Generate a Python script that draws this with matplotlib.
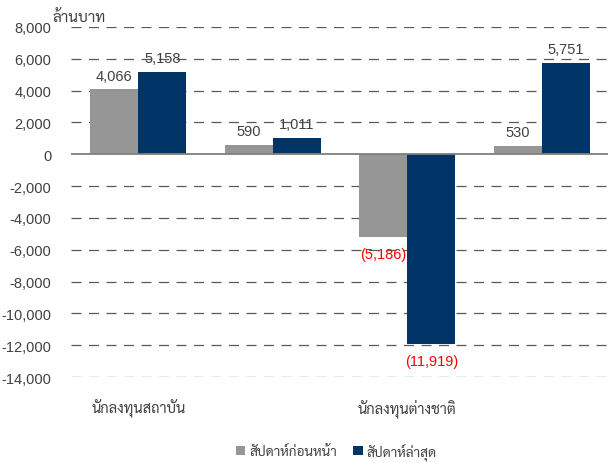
import numpy as np
import matplotlib
matplotlib.use("Agg")
import matplotlib.pyplot as plt
from matplotlib import font_manager

# pick a Thai font that is installed
installed = {f.name for f in font_manager.fontManager.ttflist}
thai_font = None
for name in ['Sarabun', 'Noto Sans Thai', 'Noto Sans Thai Looped', 'Prompt', 'Kanit']:
    if name in installed:
        thai_font = name
        break
families = ['Liberation Sans']
if thai_font:
    families.append(thai_font)
families.append('DejaVu Sans')
plt.rcParams['font.family'] = families

categories = ['นักลงทุนสถาบัน', '', 'นักลงทุนต่างชาติ', '']
prev_week = [4066, 590, -5186, 530]
last_week = [5158, 1011, -11919, 5751]
series_names = ['สัปดาห์ก่อนหน้า', 'สัปดาห์ล่าสุด']
yticks = np.arange(-14000, 8001, 2000)

gray = '#969696'
navy = '#003366'
txt = '#404040'

fig = plt.figure(figsize=(6.08, 4.64), dpi=100)
ax = fig.add_axes([71 / 608, 0.185, 538 / 608, 0.755])

x = np.arange(len(categories))
w = 0.357
b1 = ax.bar(x - w / 2, prev_week, w, color=gray, label=series_names[0], zorder=3)
b2 = ax.bar(x + w / 2, last_week, w, color=navy, label=series_names[1], zorder=3)

def label_bars(bars, vals):
    for rect, v in zip(bars, vals):
        cx = rect.get_x() + rect.get_width() / 2
        if v >= 0:
            ax.annotate(f'{v:,}', (cx, v), xytext=(0, 5), textcoords='offset points',
                        ha='center', va='bottom', fontsize=10.5, color=txt, zorder=4)
        else:
            ax.annotate(f'({-v:,})', (cx, v), xytext=(0, -7), textcoords='offset points',
                        ha='center', va='top', fontsize=10.5, color='#ff0000', zorder=4)

label_bars(b1, prev_week)
label_bars(b2, last_week)

ax.set_xlim(-0.5, len(categories) - 0.5)
ax.set_ylim(-14000, 8000)
ax.set_yticks(yticks)
ax.set_yticklabels([f'{v:,}' for v in yticks])
ax.set_xticks(x)
ax.set_xticklabels(categories)
ax.tick_params(axis='y', length=0, pad=14, labelsize=10.5, labelcolor=txt)
ax.tick_params(axis='x', length=0, pad=15, labelsize=10.5, labelcolor=txt)

for v in yticks:
    if v != 0:
        ax.axhline(v, color='#595959', lw=0.9, ls=(0, (8, 6)), zorder=1)
ax.axhline(0, color='#7f7f7f', lw=1.3, zorder=4)

for s in ax.spines.values():
    s.set_visible(False)

fig.text(52 / 608, 1 - 18 / 464, 'ล้านบาท', fontsize=11, color=txt, ha='left', va='center')

fig.legend(handles=[b1, b2], labels=series_names, loc='center', bbox_to_anchor=(0.553, 1 - 452 / 464),
           ncol=2, frameon=False, fontsize=9.8, handlelength=0.7, handleheight=0.7,
           handletextpad=0.3, columnspacing=1.2, labelcolor=txt)

fig.savefig('out.png', dpi=100)
